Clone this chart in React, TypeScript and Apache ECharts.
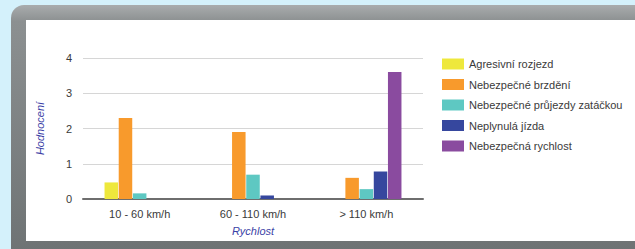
import React, { useEffect, useRef } from "react";
import * as echarts from "echarts";

const categories = ["10 - 60 km/h", "60 - 110 km/h", "> 110 km/h"];
const seriesNames = [
  "Agresivní rozjezd",
  "Nebezpečné brzdění",
  "Nebezpečné průjezdy zatáčkou",
  "Neplynulá jízda",
  "Nebezpečná rychlost",
];
const agresivniRozjezd = [0.47, 0, 0];
const nebezpecneBrzdeni = [2.3, 1.9, 0.6];
const nebezpecnePrujezdy = [0.16, 0.69, 0.28];
const neplynulaJizda = [0, 0.1, 0.78];
const nebezpecnaRychlost = [0, 0, 3.6];
const seriesValues = [
  agresivniRozjezd,
  nebezpecneBrzdeni,
  nebezpecnePrujezdy,
  neplynulaJizda,
  nebezpecnaRychlost,
];
const colors = ["#eee83c", "#f89a2c", "#5ec8c2", "#36479e", "#8a4b9f"];
const yTicks = [0, 1, 2, 3, 4];

const FONT = "'Liberation Sans', Arial, sans-serif";

export default function App() {
  const ref = useRef<HTMLDivElement>(null);
  useEffect(() => {
    if (!ref.current) return;
    const chart = echarts.init(ref.current, undefined, { renderer: "svg" });
    chart.setOption({
      animation: false,
      backgroundColor: "#d4f1fb",
      graphic: [
        {
          type: "rect",
          z: -10,
          shape: { x: 11, y: 5, width: 660, height: 270, r: 13 },
          style: {
            fill: new echarts.graphic.LinearGradient(0, 0, 0, 1, [
              { offset: 0, color: "#a9acad" },
              { offset: 0.06, color: "#8c9091" },
              { offset: 1, color: "#6b7071" },
            ]),
          },
        },
        {
          type: "rect",
          z: -9,
          shape: { x: 26, y: 20, width: 640, height: 221 },
          style: { fill: "#ffffff" },
        },
      ],
      legend: {
        orient: "vertical",
        left: 442,
        top: 58,
        padding: 0,
        itemWidth: 22,
        itemHeight: 11,
        itemGap: 8.5,
        itemTextGap: 5,
        icon: "rect",
        textStyle: { fontFamily: FONT, fontSize: 11, color: "#3a3a3a", lineHeight: 12 },
        data: seriesNames,
      },
      grid: { left: 83, right: 212, top: 58, bottom: 50 },
      xAxis: {
        type: "category",
        data: categories,
        axisLine: { lineStyle: { color: "#6e6e6e", width: 2 } },
        axisTick: { show: false },
        axisLabel: { fontFamily: FONT, fontSize: 11, color: "#3a3a3a", margin: 9 },
        name: "Rychlost",
        nameLocation: "middle",
        nameGap: 26,
        nameTextStyle: { fontFamily: FONT, fontSize: 11, fontStyle: "italic", color: "#3b3fa6" },
      },
      yAxis: {
        type: "value",
        min: yTicks[0],
        max: yTicks[yTicks.length - 1],
        interval: 1,
        axisLine: { show: false },
        axisTick: { show: false },
        splitLine: { lineStyle: { color: "#d6d6d6", width: 1 } },
        axisLabel: { fontFamily: FONT, fontSize: 11, color: "#3a3a3a", margin: 11 },
        name: "Hodnocení",
        nameLocation: "middle",
        nameRotate: 90,
        nameGap: 38,
        nameTextStyle: { fontFamily: FONT, fontSize: 11, fontStyle: "italic", color: "#3b3fa6" },
      },
      series: seriesNames.map((name, i) => ({
        name,
        type: "bar",
        data: seriesValues[i],
        barCategoryGap: "38%",
        barGap: "5%",
        itemStyle: { color: colors[i] },
      })),
    });
    return () => chart.dispose();
  }, []);
  return (
    <div
      ref={ref}
      style={{ position: "fixed", left: 0, top: 0, width: 635, height: 249 }}
    />
  );
}
